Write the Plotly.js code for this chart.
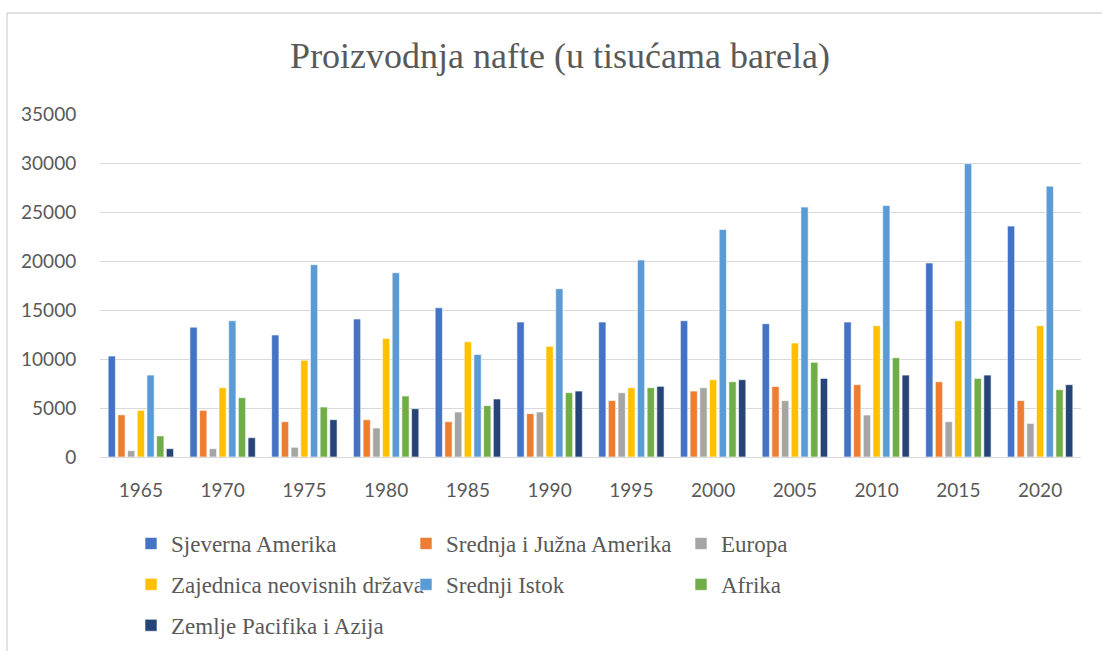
<!DOCTYPE html>
<html>
<head>
<meta charset="utf-8">
<script src="https://cdn.plot.ly/plotly-3.0.1.min.js"></script>
<style>
  html, body { margin: 0; padding: 0; background: #ffffff; }
  #chart { width: 1102px; height: 651px; }
</style>
</head>
<body>
<div id="chart"></div>
<script>
const years = ['1965','1970','1975','1980','1985','1990','1995','2000','2005','2010','2015','2020'];

const sjevernaAmerika   = [10300, 13250, 12450, 14080, 15230, 13770, 13770, 13900, 13600, 13770, 19800, 23560];
const srednjaJuznaAm    = [4300, 4760, 3600, 3800, 3600, 4420, 5750, 6730, 7200, 7380, 7680, 5750];
const europa            = [650, 850, 990, 2960, 4590, 4590, 6560, 7070, 5750, 4280, 3600, 3430];
const zajednicaND       = [4760, 7070, 9860, 12100, 11760, 11290, 7070, 7890, 11630, 13400, 13900, 13400];
const srednjiIstok      = [8360, 13900, 19620, 18800, 10470, 17170, 20100, 23220, 25500, 25670, 29920, 27640];
const afrika            = [2150, 6050, 5100, 6220, 5240, 6560, 7070, 7680, 9660, 10130, 8020, 6870];
const pacifikAzija      = [850, 1970, 3810, 4930, 5920, 6730, 7210, 7890, 8020, 8360, 8360, 7380];

const seriesNames  = ['Sjeverna Amerika', 'Srednja i Južna Amerika', 'Europa', 'Zajednica neovisnih država', 'Srednji Istok', 'Afrika', 'Zemlje Pacifika i Azija'];
const seriesValues = [sjevernaAmerika, srednjaJuznaAm, europa, zajednicaND, srednjiIstok, afrika, pacifikAzija];
const seriesColors = ['#4472C4', '#ED7D31', '#A5A5A5', '#FFC000', '#5B9BD5', '#70AD47', '#264478'];
const legendIds    = ['legend', 'legend2', 'legend3', 'legend', 'legend2', 'legend3', 'legend'];

const W = 1102, H = 651;
const ml = 100, mr = 21, mt = 114, mb = 194;
const pxToPaperX = px => (px - ml) / (W - ml - mr);
const pxToPaperY = py => (H - mb - py) / (H - mt - mb);

const traces = seriesNames.map((name, i) => ({
  type: 'bar',
  name: name,
  x: years,
  y: seriesValues[i],
  legend: legendIds[i],
  legendgroup: 'g' + i,
  marker: { color: seriesColors[i], line: { color: '#ffffff', width: 0.6 } },
  hoverinfo: 'x+y+name'
}));

const legendFont = { family: 'Liberation Serif, Times New Roman, serif', size: 23, color: '#595959' };
function legendAt(px) {
  return {
    xref: 'paper', yref: 'paper',
    x: pxToPaperX(px), y: pxToPaperY(522),
    xanchor: 'left', yanchor: 'top',
    orientation: 'v',
    traceorder: 'grouped',
    tracegroupgap: 8,
    font: legendFont,
    bgcolor: 'rgba(0,0,0,0)',
    borderwidth: 0,
    itemclick: false, itemdoubleclick: false
  };
}

const layout = {
  width: W, height: H,
  margin: { l: ml, r: mr, t: mt, b: mb, pad: 0, autoexpand: false },
  paper_bgcolor: '#ffffff',
  plot_bgcolor: '#ffffff',
  title: {
    text: 'Proizvodnja nafte (u tisućama barela)',
    font: { family: 'Liberation Serif, Times New Roman, serif', size: 36, color: '#595959' },
    x: 560 / W, xanchor: 'center', xref: 'container',
    y: 1 - 55 / H, yanchor: 'middle', yref: 'container'
  },
  barmode: 'group',
  bargap: 0.17,
  bargroupgap: 0.25,
  xaxis: {
    type: 'category',
    automargin: false,
    showgrid: false,
    showline: true, linecolor: '#d9d9d9', linewidth: 1,
    ticks: 'outside', ticklen: 16, tickcolor: 'rgba(0,0,0,0)',
    tickfont: { family: 'Lato, Carlito, Calibri, sans-serif', size: 19, color: '#595959' }
  },
  yaxis: {
    range: [0, 35000],
    autorange: false,
    automargin: false,
    dtick: 5000,
    tick0: 0,
    showgrid: true, gridcolor: '#d9d9d9', gridwidth: 1,
    zeroline: true, zerolinecolor: '#d9d9d9', zerolinewidth: 1,
    showline: false,
    ticks: 'outside', ticklen: 19, tickcolor: 'rgba(0,0,0,0)',
    tickformat: 'd',
    tickfont: { family: 'Lato, Carlito, Calibri, sans-serif', size: 19, color: '#595959' }
  },
  showlegend: true,
  legend: legendAt(131),
  legend2: legendAt(406),
  legend3: legendAt(681),
  shapes: [
    { type: 'line', xref: 'paper', yref: 'paper', x0: pxToPaperX(7), x1: pxToPaperX(1110), y0: pxToPaperY(13), y1: pxToPaperY(13), line: { color: '#d9d9d9', width: 1.5 } },
    { type: 'line', xref: 'paper', yref: 'paper', x0: pxToPaperX(7), x1: pxToPaperX(7), y0: pxToPaperY(13), y1: pxToPaperY(660), line: { color: '#d9d9d9', width: 1.5 } }
  ]
};

Plotly.newPlot('chart', traces, layout, { displayModeBar: false });
</script>
</body>
</html>
